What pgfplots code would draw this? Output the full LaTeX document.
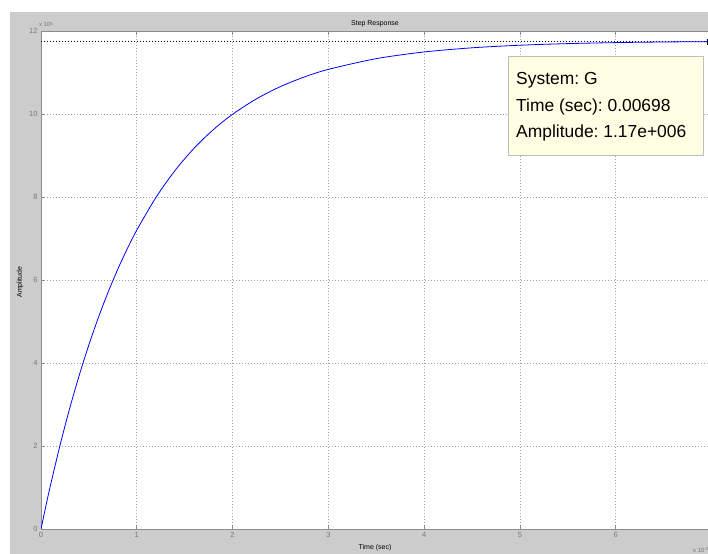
\documentclass[border=0pt]{standalone}
\usepackage{pgfplots}
\pgfplotsset{compat=1.18}
\usepackage{fontspec}
\setmainfont{Liberation Sans}
\definecolor{bggray}{RGB}{204,204,204}
\definecolor{axgray}{RGB}{140,140,140}
\definecolor{gridgray}{RGB}{160,160,160}
\definecolor{tickgray}{RGB}{120,120,120}
\definecolor{tipfill}{RGB}{255,255,228}
\definecolor{tipedge}{RGB}{190,190,190}
\begin{document}
\frenchspacing
\begin{tikzpicture}
\useasboundingbox (0,0) rectangle (708bp,554bp);
\clip (0,0) rectangle (708bp,554bp);
\fill[white] (0,0) rectangle (708bp,554bp);
\fill[bggray] (10bp,0) rectangle (708bp,542bp);
\begin{axis}[
  at={(41bp,25bp)}, anchor=south west,
  scale only axis, width=670.5bp, height=498bp,
  xmin=0, xmax=7, ymin=0, ymax=12,
  xtick={0,1,2,3,4,5,6}, ytick={0,2,4,6,8,10,12},
  grid=major,
  major grid style={gridgray, dash pattern=on 1bp off 2bp, line width=0.7bp},
  axis line style={axgray, line width=0.8bp},
  tick style={axgray, line width=0.8bp},
  major tick length=4bp,
  tick align=inside,
  ticklabel style={font=\fontsize{7.5}{9}\selectfont, text=tickgray},
  /pgf/number format/assume math mode=true,
  axis background/.style={fill=white},
  clip=true,
]
\addplot[black, line width=0.8bp, dash pattern=on 1.2bp off 1.8bp] coordinates {(0,11.76) (7.2,11.76)};
\addplot[blue, line width=0.8bp, smooth] coordinates {
(0,0) (0.05,0.5443) (0.1,1.0635) (0.2,2.0307) (0.3,2.9106) (0.4,3.7109) (0.5,4.4388)
(0.6,5.1009) (0.7,5.7031) (0.8,6.2509) (0.9,6.7491) (1.0,7.2022) (1.2,7.9893)
(1.4,8.6404) (1.6,9.1790) (1.8,9.6246) (2.0,9.9934) (2.25,10.3659) (2.5,10.6603)
(2.75,10.8925) (3.0,11.0752) (3.5,11.3336) (4.0,11.4947) (4.5,11.5948)
(5.0,11.6572) (5.5,11.6960) (6.0,11.7201) (6.5,11.7352) (6.98,11.7442)};
\addplot[only marks, mark=square*, mark size=2.5bp, black] coordinates {(6.98,11.7442)};
\end{axis}
\node[font=\fontsize{7}{8}\selectfont] at (375bp,530.5bp) {Step Response};
\node[font=\fontsize{7}{8}\selectfont] at (375bp,6bp) {Time (sec)};
\node[font=\fontsize{7}{8}\selectfont, rotate=90] at (20bp,272bp) {Amplitude};
\node[anchor=base west, inner sep=0, font=\fontsize{6}{7}\selectfont, text=tickgray] at (39bp,527bp) {x 10\raisebox{0.6ex}{\fontsize{4.5}{5}\selectfont 5}};
\node[anchor=base west, inner sep=0, font=\fontsize{6}{7}\selectfont, text=tickgray] at (693bp,2bp) {x 10\raisebox{0.6ex}{\fontsize{4.5}{5}\selectfont -3}};
\draw[tipedge, fill=tipfill, line width=0.8bp] (508bp,399bp) rectangle (703bp,498bp);
\node[anchor=base west, inner sep=0, font=\fontsize{17.5}{20}\selectfont] at (516bp,469bp) {System: G};
\node[anchor=base west, inner sep=0, font=\fontsize{17.5}{20}\selectfont] at (516bp,442.5bp) {Time (sec): 0.00698};
\node[anchor=base west, inner sep=0, font=\fontsize{17.5}{20}\selectfont] at (516bp,416bp) {Amplitude: 1.17e+006};
\end{tikzpicture}
\end{document}
